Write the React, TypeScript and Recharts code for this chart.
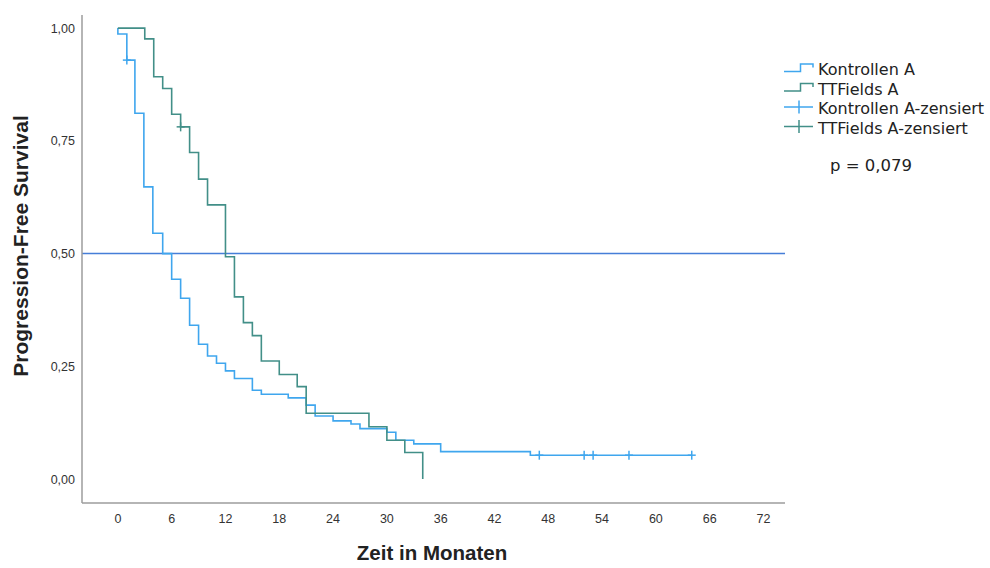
import React from 'react';
import { ComposedChart, Line, Scatter, XAxis, YAxis, ReferenceLine } from 'recharts';

// Kaplan-Meier steps (Zeit in Monaten, Überleben)
const kontrollenTime = [0, 0, 1, 1.9, 2.9, 3.9, 5, 6, 7, 8, 9, 10, 11, 12, 13, 15, 16, 19, 21, 22, 24, 26, 27, 30, 31, 33, 36, 46, 64];
const kontrollenSurv = [1, 0.987, 0.929, 0.811, 0.648, 0.545, 0.5, 0.443, 0.401, 0.341, 0.299, 0.273, 0.257, 0.24, 0.223, 0.197, 0.188, 0.18, 0.164, 0.14, 0.129, 0.122, 0.112, 0.104, 0.086, 0.078, 0.061, 0.053, 0.053];

const ttfTime = [0, 3, 4, 5, 6, 7, 8, 9, 10, 12, 13, 14, 15, 16, 18, 20, 21, 28, 30, 32, 34];
const ttfSurv = [1, 0.976, 0.892, 0.866, 0.809, 0.781, 0.724, 0.665, 0.608, 0.493, 0.404, 0.347, 0.318, 0.262, 0.232, 0.205, 0.146, 0.116, 0.086, 0.059, 0];

// zensierte Fälle
const kontrollenCensTime = [1, 47, 52, 53, 57, 64];
const kontrollenCensSurv = [0.929, 0.053, 0.053, 0.053, 0.053, 0.053];
const ttfCensTime = [7];
const ttfCensSurv = [0.781];

const xTicks = [0, 6, 12, 18, 24, 30, 36, 42, 48, 54, 60, 66, 72];
const yTicks = [0, 0.25, 0.5, 0.75, 1];

const BLUE = '#3fa6ee';
const GREEN = '#428f88';
const REF = '#467ed8';

const toPoints = (ts: number[], ss: number[]) => ts.map((t, i) => ({ t, s: ss[i] }));

const kontrollen = toPoints(kontrollenTime, kontrollenSurv);
const ttf = toPoints(ttfTime, ttfSurv);
const kontrollenCens = toPoints(kontrollenCensTime, kontrollenCensSurv);
const ttfCens = toPoints(ttfCensTime, ttfCensSurv);

const cross = (color: string) => (props: any) => {
  const { cx, cy } = props;
  return (
    <g>
      <line x1={cx - 4} y1={cy} x2={cx + 4} y2={cy} stroke={color} strokeWidth={1.5} />
      <line x1={cx} y1={cy - 4.5} x2={cx} y2={cy + 4.5} stroke={color} strokeWidth={1.5} />
    </g>
  );
};

const XTitle = () => (
  <text x={432} y={560} textAnchor="middle" fontFamily="Liberation Sans, Arial, sans-serif" fontWeight="bold" fontSize={20.5} fill="#222">
    Zeit in Monaten
  </text>
);

const YTitle = () => (
  <text x={28} y={246} transform="rotate(-90 28 246)" textAnchor="middle" fontFamily="Liberation Sans, Arial, sans-serif" fontWeight="bold" fontSize={21} fill="#222">
    Progression-Free Survival
  </text>
);

const Legend = () => {
  const font = { fontFamily: 'DejaVu Sans, sans-serif', fontSize: 16, fill: '#222' };
  const step = (y: number, color: string) => (
    <polyline points={`784,${y + 2.5} 800.5,${y + 2.5} 800.5,${y - 5} 813,${y - 5} 813,${y - 1.5}`} fill="none" stroke={color} strokeWidth={1.5} />
  );
  const plus = (y: number, color: string) => (
    <g stroke={color} strokeWidth={1.5}>
      <line x1={784} y1={y} x2={813} y2={y} />
      <line x1={799} y1={y - 6.5} x2={799} y2={y + 6.5} />
    </g>
  );
  return (
    <svg width={990} height={568} style={{ position: 'absolute', left: 0, top: 0, pointerEvents: 'none' }}>
      {step(69, BLUE)}
      <text x={818} y={75} {...font}>Kontrollen A</text>
      {step(88.5, GREEN)}
      <text x={818} y={94.5} {...font}>TTFields A</text>
      {plus(107, BLUE)}
      <text x={818} y={114} {...font}>Kontrollen A-zensiert</text>
      {plus(126.5, GREEN)}
      <text x={818} y={133.5} {...font}>TTFields A-zensiert</text>
      <text x={830} y={171} {...font} fontSize={16.5}>p = 0,079</text>
    </svg>
  );
};

export default function App() {
  return (
    <div style={{ position: 'relative', width: 990, height: 568, background: '#fff' }}>
      <style>{`body{margin:0;}`}</style>
      <ComposedChart width={990} height={568} margin={{ top: 15, right: 205, bottom: 0, left: 0 }}>
        <XAxis
          type="number"
          dataKey="t"
          domain={[-4, 74.4]}
          ticks={xTicks}
          allowDataOverflow
          height={65}
          tickLine={false}
          tickSize={0}
          tickMargin={11}
          axisLine={{ stroke: '#9c9c9c', strokeWidth: 1.5 }}
          tick={{ fontSize: 12.5, fill: '#333', fontFamily: 'Liberation Sans, Arial, sans-serif' }}
          label={<XTitle />}
        />
        <YAxis
          type="number"
          dataKey="s"
          domain={[-0.053, 1.029]}
          ticks={yTicks}
          allowDataOverflow
          width={82}
          tickLine={false}
          tickSize={0}
          tickMargin={7}
          tickFormatter={(v: number) => v.toFixed(2).replace('.', ',')}
          axisLine={{ stroke: '#9c9c9c', strokeWidth: 1.5 }}
          tick={{ fontSize: 12.5, fill: '#333', fontFamily: 'Liberation Sans, Arial, sans-serif' }}
          label={<YTitle />}
        />
        <ReferenceLine y={0.5} stroke={REF} strokeWidth={1.5} />
        <Line data={kontrollen} dataKey="s" type="stepAfter" stroke={BLUE} strokeWidth={1.6} dot={false} activeDot={false} isAnimationActive={false} />
        <Line data={ttf} dataKey="s" type="stepAfter" stroke={GREEN} strokeWidth={1.6} dot={false} activeDot={false} isAnimationActive={false} />
        <Scatter data={kontrollenCens} dataKey="s" shape={cross(BLUE)} isAnimationActive={false} />
        <Scatter data={ttfCens} dataKey="s" shape={cross(GREEN)} isAnimationActive={false} />
      </ComposedChart>
      <Legend />
    </div>
  );
}
